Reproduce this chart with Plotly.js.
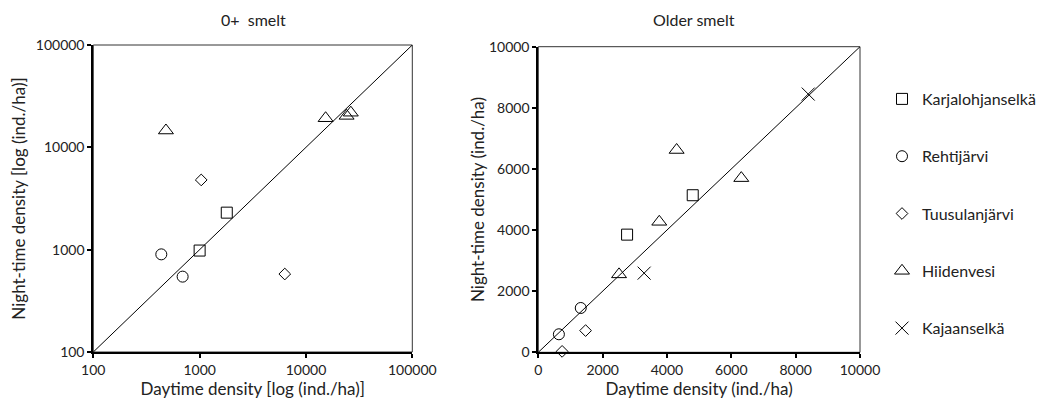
<!DOCTYPE html>
<html><head><meta charset="utf-8">
<script src="https://cdn.plot.ly/plotly-3.0.1.min.js"></script>
<style>body{margin:0;background:#fff}#chart{width:1044px;height:407px}</style>
</head><body><div id="chart"></div>
<script>
// Lakes and marker styles
const lakes = ["Karjalohjanselkä", "Rehtijärvi", "Tuusulanjärvi", "Hiidenvesi", "Kajaanselkä"];
const symbols = ["square-open", "circle-open", "diamond-open", "triangle-up-open", "x-thin-open"];
const sizes = [11, 11, 9, 13, 13];

// 0+ smelt (log scale), daytime vs night-time density (ind./ha)
const youngDay = [
  [1000, 1800],
  [436, 692],
  [1035, 6320],
  [482, 15300, 24100, 26400],
  []
];
const youngNight = [
  [980, 2300],
  [900, 545],
  [4800, 578],
  [14600, 19250, 20300, 21800],
  []
];

// Older smelt (linear scale)
const olderDay = [
  [2760, 4800],
  [640, 1320],
  [740, 1470],
  [2510, 3760, 4300, 6310],
  [3290, 8390]
];
const olderNight = [
  [3850, 5140],
  [590, 1450],
  [30, 710],
  [2550, 4270, 6620, 5700],
  [2590, 8450]
];

// 1:1 reference lines
const youngLine = [100, 100000];
const olderLine = [0, 10000];

// Tick labels
const logTicks = [100, 1000, 10000, 100000];
const logTickText = ["100", "1000", "10000", "100000"];
const linTicks = [0, 2000, 4000, 6000, 8000, 10000];

const FONT = "Lato, 'Open Sans', sans-serif";
const TXT = "#222";
const traces = [];
lakes.forEach((name, i) => {
  const marker = {symbol: symbols[i], size: sizes[i], color: "#000", line: {width: 1, color: "#000"}};
  traces.push({
    x: youngDay[i], y: youngNight[i], xaxis: "x", yaxis: "y",
    type: "scatter", mode: "markers", name: name, legendgroup: name,
    showlegend: youngDay[i].length > 0, marker: marker, cliponaxis: false
  });
});
lakes.forEach((name, i) => {
  const marker = {symbol: symbols[i], size: sizes[i], color: "#000", line: {width: 1, color: "#000"}};
  traces.push({
    x: olderDay[i], y: olderNight[i], xaxis: "x2", yaxis: "y2",
    type: "scatter", mode: "markers", name: name, legendgroup: name,
    showlegend: youngDay[i].length === 0, marker: marker, cliponaxis: false
  });
});
traces.push({x: youngLine, y: youngLine, xaxis: "x", yaxis: "y", type: "scatter", mode: "lines",
  line: {color: "#000", width: 1}, showlegend: false, hoverinfo: "skip"});
traces.push({x: olderLine, y: olderLine, xaxis: "x2", yaxis: "y2", type: "scatter", mode: "lines",
  line: {color: "#000", width: 1}, showlegend: false, hoverinfo: "skip"});

const W = 1044, H = 407;
const px = v => v / W, py = v => (H - v) / H;

const axBase = {
  showline: true, linecolor: "#000", linewidth: 2, mirror: false,
  ticks: "outside", ticklen: 4, tickwidth: 2, tickcolor: "#000",
  showgrid: false, zeroline: false,
  tickfont: {family: FONT, size: 14, color: TXT},
  fixedrange: true
};
const titleFont = {family: FONT, size: 17, color: TXT};

const layout = {
  width: W, height: H,
  margin: {l: 0, r: 0, t: 0, b: 0},
  paper_bgcolor: "#fff", plot_bgcolor: "#fff",
  font: {family: FONT, color: TXT},
  showlegend: true,
  legend: {
    x: px(882), y: py(82), xanchor: "left", yanchor: "top",
    font: {family: FONT, size: 16, color: TXT},
    tracegroupgap: 33.5, borderwidth: 0, bgcolor: "rgba(0,0,0,0)"
  },
  xaxis: Object.assign({}, axBase, {
    type: "log", domain: [px(93.3), px(412.3)], range: [2, 5], anchor: "y",
    tickvals: logTicks, ticktext: logTickText,
    title: {text: "Daytime density [log (ind./ha)]", font: titleFont, standoff: 6}
  }),
  yaxis: Object.assign({}, axBase, {
    type: "log", domain: [py(352), py(45)], range: [2, 5], anchor: "x",
    tickvals: logTicks, ticktext: logTickText,
    title: {text: "Night-time density [log (ind./ha)]", font: titleFont, standoff: 6}
  }),
  xaxis2: Object.assign({}, axBase, {
    domain: [px(538.3), px(860)], range: [0, 10000], anchor: "y2",
    tickvals: linTicks, tickformat: "d",
    title: {text: "Daytime density (ind./ha)", font: titleFont, standoff: 6}
  }),
  yaxis2: Object.assign({}, axBase, {
    domain: [py(352.3), py(46.7)], range: [0, 10000], anchor: "x2",
    tickvals: linTicks, tickformat: "d",
    title: {text: "Night-time density (ind./ha)", font: titleFont, standoff: 0}
  }),
  shapes: [
    {type: "rect", xref: "x domain", yref: "y domain", x0: 0, x1: 1, y0: 0, y1: 1,
      line: {color: "#333", width: 1}, layer: "below"},
    {type: "rect", xref: "x2 domain", yref: "y2 domain", x0: 0, x1: 1, y0: 0, y1: 1,
      line: {color: "#333", width: 1}, layer: "below"}
  ],
  annotations: [
    {text: "0+\u00a0 smelt", xref: "paper", yref: "paper", x: px(253), y: py(19),
      xanchor: "center", yanchor: "middle", showarrow: false, font: {family: FONT, size: 16, color: TXT}},
    {text: "Older smelt", xref: "paper", yref: "paper", x: px(694), y: py(19),
      xanchor: "center", yanchor: "middle", showarrow: false, font: {family: FONT, size: 16, color: TXT}}
  ]
};

Plotly.newPlot("chart", traces, layout, {displayModeBar: false, staticPlot: true});
</script>
</body></html>
